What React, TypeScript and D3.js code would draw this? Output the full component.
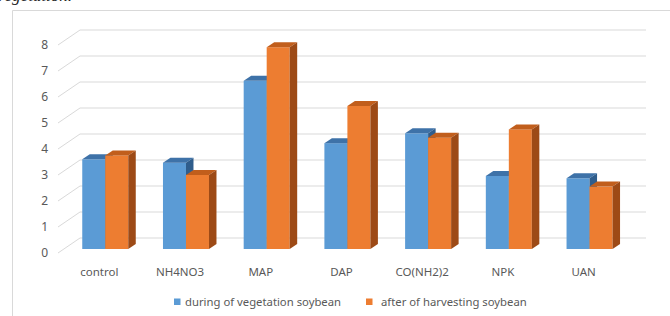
import * as d3 from 'd3';

const categories = ['control', 'NH4NO3', 'MAP', 'DAP', 'CO(NH2)2', 'NPK', 'UAN'];
const seriesNames = ['during of vegetation soybean', 'after of harvesting soybean'];
const duringVegetation = [3.45, 3.32, 6.47, 4.07, 4.45, 2.81, 2.72];
const afterHarvesting = [3.6, 2.85, 7.76, 5.5, 4.28, 4.6, 2.4];
const yTicks = [0, 1, 2, 3, 4, 5, 6, 7, 8];

const W = 670;
const H = 316;
const font = '"Noto Sans", "Open Sans", sans-serif';
const textColor = '#595959';

// 3D depth: floor goes back by (floorDx, floorDy); bars sit in the middle
const floorDx = 22;
const floorDy = -15;
const barOffX = 5.9;
const barOffY = -4;
const barDx = 7.5;
const barDy = -5;

const faces = [
  { front: '#5b9bd5', top: '#3e72a8', side: '#2f5d8c' },
  { front: '#ed7d31', top: '#c15e1c', side: '#9d4a16' },
];

export default function App() {
  const x = d3.scaleBand<string>().domain(categories).range([59, 624]).paddingInner(0.43).paddingOuter(0.215);
  const xs = d3.scaleBand<number>().domain([0, 1]).range([0, x.bandwidth()]);
  const y = d3.scaleLinear().domain([0, 8]).range([253, 45]);
  const series = [duringVegetation, afterHarvesting];

  const bar = (ci: number, si: number) => {
    const v = series[si][ci];
    const x0 = x(categories[ci])! + xs(si)! + barOffX;
    const x1 = x0 + xs.bandwidth();
    const yb = y(0) + barOffY;
    const yt = y(v) + barOffY;
    const c = faces[si];
    return (
      <g key={`${ci}-${si}`}>
        <rect x={x0} y={yt} width={x1 - x0} height={yb - yt} fill={c.front} />
        <path d={`M${x0},${yt}L${x0 + barDx},${yt + barDy}L${x1 + barDx},${yt + barDy}L${x1},${yt}Z`} fill={c.top} />
        <path d={`M${x1},${yt}L${x1 + barDx},${yt + barDy}L${x1 + barDx},${yb + barDy}L${x1},${yb}Z`} fill={c.side} />
      </g>
    );
  };

  const x0 = 58;
  const backRight = 646;
  const legendX = [174, 366];

  return (
    <svg width={W} height={H} style={{ position: 'absolute', left: 0, top: 0, background: '#fff' }}>
      {/* caption text of the page above, clipped at the top edge as in the source */}
      <text x={-3} y={1} fontFamily='"Liberation Serif", serif' fontStyle="italic" fontSize={17} fill="#222">
        vegetation.
      </text>
      <path d={`M12.5,${H + 5}V10.5H${W + 5}`} fill="none" stroke="#d9d9d9" />

      {yTicks.map((t) => (
        <g key={t}>
          <path
            d={`M${x0},${y(t)}L${x0 + floorDx},${y(t) + floorDy}H${backRight}`}
            fill="none"
            stroke="#d9d9d9"
            strokeWidth={1}
          />
          <text x={48} y={y(t)} dy="0.35em" textAnchor="end" fontFamily={font} fontSize={12} fill={textColor}>
            {t}
          </text>
        </g>
      ))}

      {categories.map((_, ci) => [bar(ci, 0), bar(ci, 1)])}

      {categories.map((c) => (
        <text
          key={c}
          x={x(c)! + x.bandwidth() / 2}
          y={276}
          textAnchor="middle"
          fontFamily={font}
          fontSize={11.5}
          fill={textColor}
        >
          {c}
        </text>
      ))}

      {seriesNames.map((s, i) => (
        <g key={s}>
          <rect x={legendX[i]} y={298.5} width={6.5} height={6.5} fill={faces[i].front} />
          <text x={legendX[i] + (i === 0 ? 11 : 15)} y={306} fontFamily={font} fontSize={11.3} fill={textColor}>
            {s}
          </text>
        </g>
      ))}
    </svg>
  );
}
